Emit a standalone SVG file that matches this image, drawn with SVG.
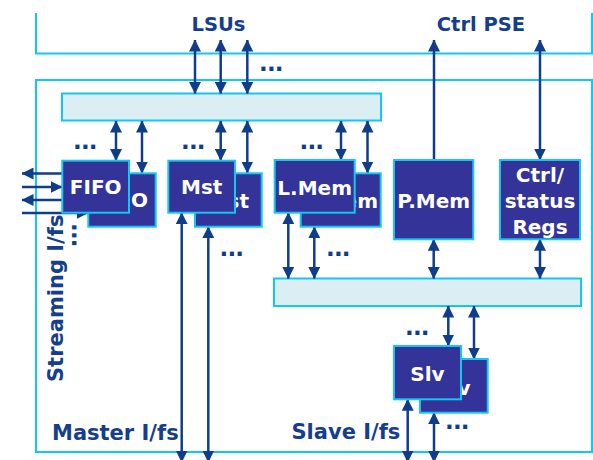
<svg xmlns="http://www.w3.org/2000/svg" width="593" height="460" viewBox="0 0 593 460">
<defs>
<style>
.frame{fill:none;stroke:#12c8f2;stroke-width:2}
.bus{fill:#daeef4;stroke:#12c8f2;stroke-width:2}
.box{fill:#333399;stroke:#12c8f2;stroke-width:2}
.cn{fill:none;stroke:#0f3d8c;stroke-width:2.5}
.d{marker-start:url(#ah);marker-end:url(#ah)}
.e{marker-end:url(#ah)}
.s{marker-start:url(#ah)}
.t{font-family:"DejaVu Sans",sans-serif;font-weight:bold}
.title{fill:#153e8c;font-size:19.5px}
.lbl{fill:#153e8c;font-size:21px}
.nt{fill:#ffffff;font-size:20px;text-anchor:middle}
.dots{fill:#0f3d8c;font-size:23px;letter-spacing:-0.8px}
</style>
<marker id="ah" viewBox="0 0 12 12" markerWidth="12" markerHeight="12" refX="11.5" refY="6" orient="auto-start-reverse" markerUnits="userSpaceOnUse">
<path d="M0,0 L12,6 L0,12 z" fill="#0f3d8c"/>
</marker>
</defs>

<g id="frames">
<polyline class="frame" points="36,13 36,53.5 592,53.5 592,13"/>
<rect class="frame" x="36" y="80" width="556" height="372"/>
</g>

<g id="buses">
<rect id="top-bus" class="bus" x="62" y="93.5" width="319" height="27"/>
<rect id="lower-bus" class="bus" x="274" y="278.5" width="307" height="27.5"/>
</g>

<g id="labels" class="t">
<text class="title" x="218.5" y="31" text-anchor="middle">LSUs</text>
<text class="title" x="481" y="31" text-anchor="middle">Ctrl PSE</text>
<text class="lbl" x="52" y="439.5">Master I/fs</text>
<text class="lbl" x="291.5" y="439">Slave I/fs</text>
<text class="lbl" x="63" y="382" transform="rotate(-90 63 382)">Streaming I/fs</text>
</g>

<g id="connectors">
<line class="cn d" x1="195" y1="40" x2="195" y2="93.5"/>
<line class="cn d" x1="220.7" y1="40" x2="220.7" y2="93.5"/>
<line class="cn d" x1="247.3" y1="40" x2="247.3" y2="93.5"/>
<line class="cn s" x1="434" y1="40" x2="434" y2="160"/>
<line class="cn d" x1="540" y1="40" x2="540" y2="160"/>

<line class="cn d" x1="116" y1="121" x2="116" y2="160.5"/>
<line class="cn d" x1="142" y1="121" x2="142" y2="173"/>
<line class="cn d" x1="220.7" y1="121" x2="220.7" y2="160.5"/>
<line class="cn d" x1="247.3" y1="121" x2="247.3" y2="173"/>
<line class="cn d" x1="341" y1="121" x2="341" y2="160"/>
<line class="cn d" x1="367.5" y1="121" x2="367.5" y2="173"/>

<line class="cn e" x1="62" y1="173.5" x2="22" y2="173.5"/>
<line class="cn e" x1="22" y1="187" x2="62" y2="187"/>
<line class="cn e" x1="62" y1="200" x2="22" y2="200"/>
<line class="cn e" x1="22" y1="213" x2="88" y2="213"/>

<line class="cn d" x1="181.7" y1="212.7" x2="181.7" y2="462"/>
<line class="cn d" x1="208.3" y1="226.7" x2="208.3" y2="462"/>
<line class="cn d" x1="288.3" y1="212.7" x2="288.3" y2="278.5"/>
<line class="cn d" x1="314.3" y1="226.7" x2="314.3" y2="278.5"/>
<line class="cn d" x1="433.7" y1="239.3" x2="433.7" y2="278.5"/>
<line class="cn d" x1="540" y1="239.3" x2="540" y2="278.5"/>

<line class="cn d" x1="448.3" y1="306" x2="448.3" y2="346"/>
<line class="cn d" x1="474" y1="306" x2="474" y2="359"/>
<line class="cn d" x1="407.7" y1="399.3" x2="407.7" y2="462"/>
<line class="cn d" x1="434" y1="412.7" x2="434" y2="462"/>

<g class="t dots">
<text x="259" y="70.5">...</text>
<text x="73" y="149">...</text>
<text x="181" y="149">...</text>
<text x="299.5" y="149">...</text>
<text x="219.5" y="256">...</text>
<text x="326" y="256">...</text>
<text x="405" y="335">...</text>
<text x="445" y="428.5">...</text>
<text x="72" y="223" transform="rotate(90 72 223)">...</text>
</g>
</g>

<g id="fifo-back"><rect class="box" x="88.3" y="173.3" width="67.4" height="53.4"/><text class="t nt" x="122" y="206.7">FIFO</text></g>
<g id="fifo"><rect class="box" x="62.3" y="160.7" width="66.7" height="52"/><text class="t nt" x="95.7" y="194">FIFO</text></g>
<g id="mst-back"><rect class="box" x="195" y="173.3" width="66.7" height="53.4"/><text class="t nt" x="228.3" y="208">Mst</text></g>
<g id="mst"><rect class="box" x="168.3" y="160.7" width="66.7" height="52"/><text class="t nt" x="201.7" y="194">Mst</text></g>
<g id="lmem-back"><rect class="box" x="300.7" y="173.3" width="80" height="53.4"/><text class="t nt" x="340.7" y="208">L.Mem</text></g>
<g id="lmem"><rect class="box" x="274.7" y="160" width="80" height="52.7"/><text class="t nt" x="314.7" y="195">L.Mem</text></g>
<g id="pmem"><rect class="box" x="394" y="160" width="79.3" height="79.3"/><text class="t nt" x="433.7" y="208">P.Mem</text></g>
<g id="ctrl-regs"><rect class="box" x="500" y="160" width="80" height="79.3"/>
<text class="t nt" x="540" y="181.7">Ctrl/</text>
<text class="t nt" x="540" y="208.3">status</text>
<text class="t nt" x="540" y="233.5">Regs</text></g>
<g id="slv-back"><rect class="box" x="420" y="359" width="67.7" height="53.7"/><text class="t nt" x="453.5" y="395">Slv</text></g>
<g id="slv"><rect class="box" x="394" y="346" width="67" height="53.3"/><text class="t nt" x="427.5" y="381">Slv</text></g>
</svg>
